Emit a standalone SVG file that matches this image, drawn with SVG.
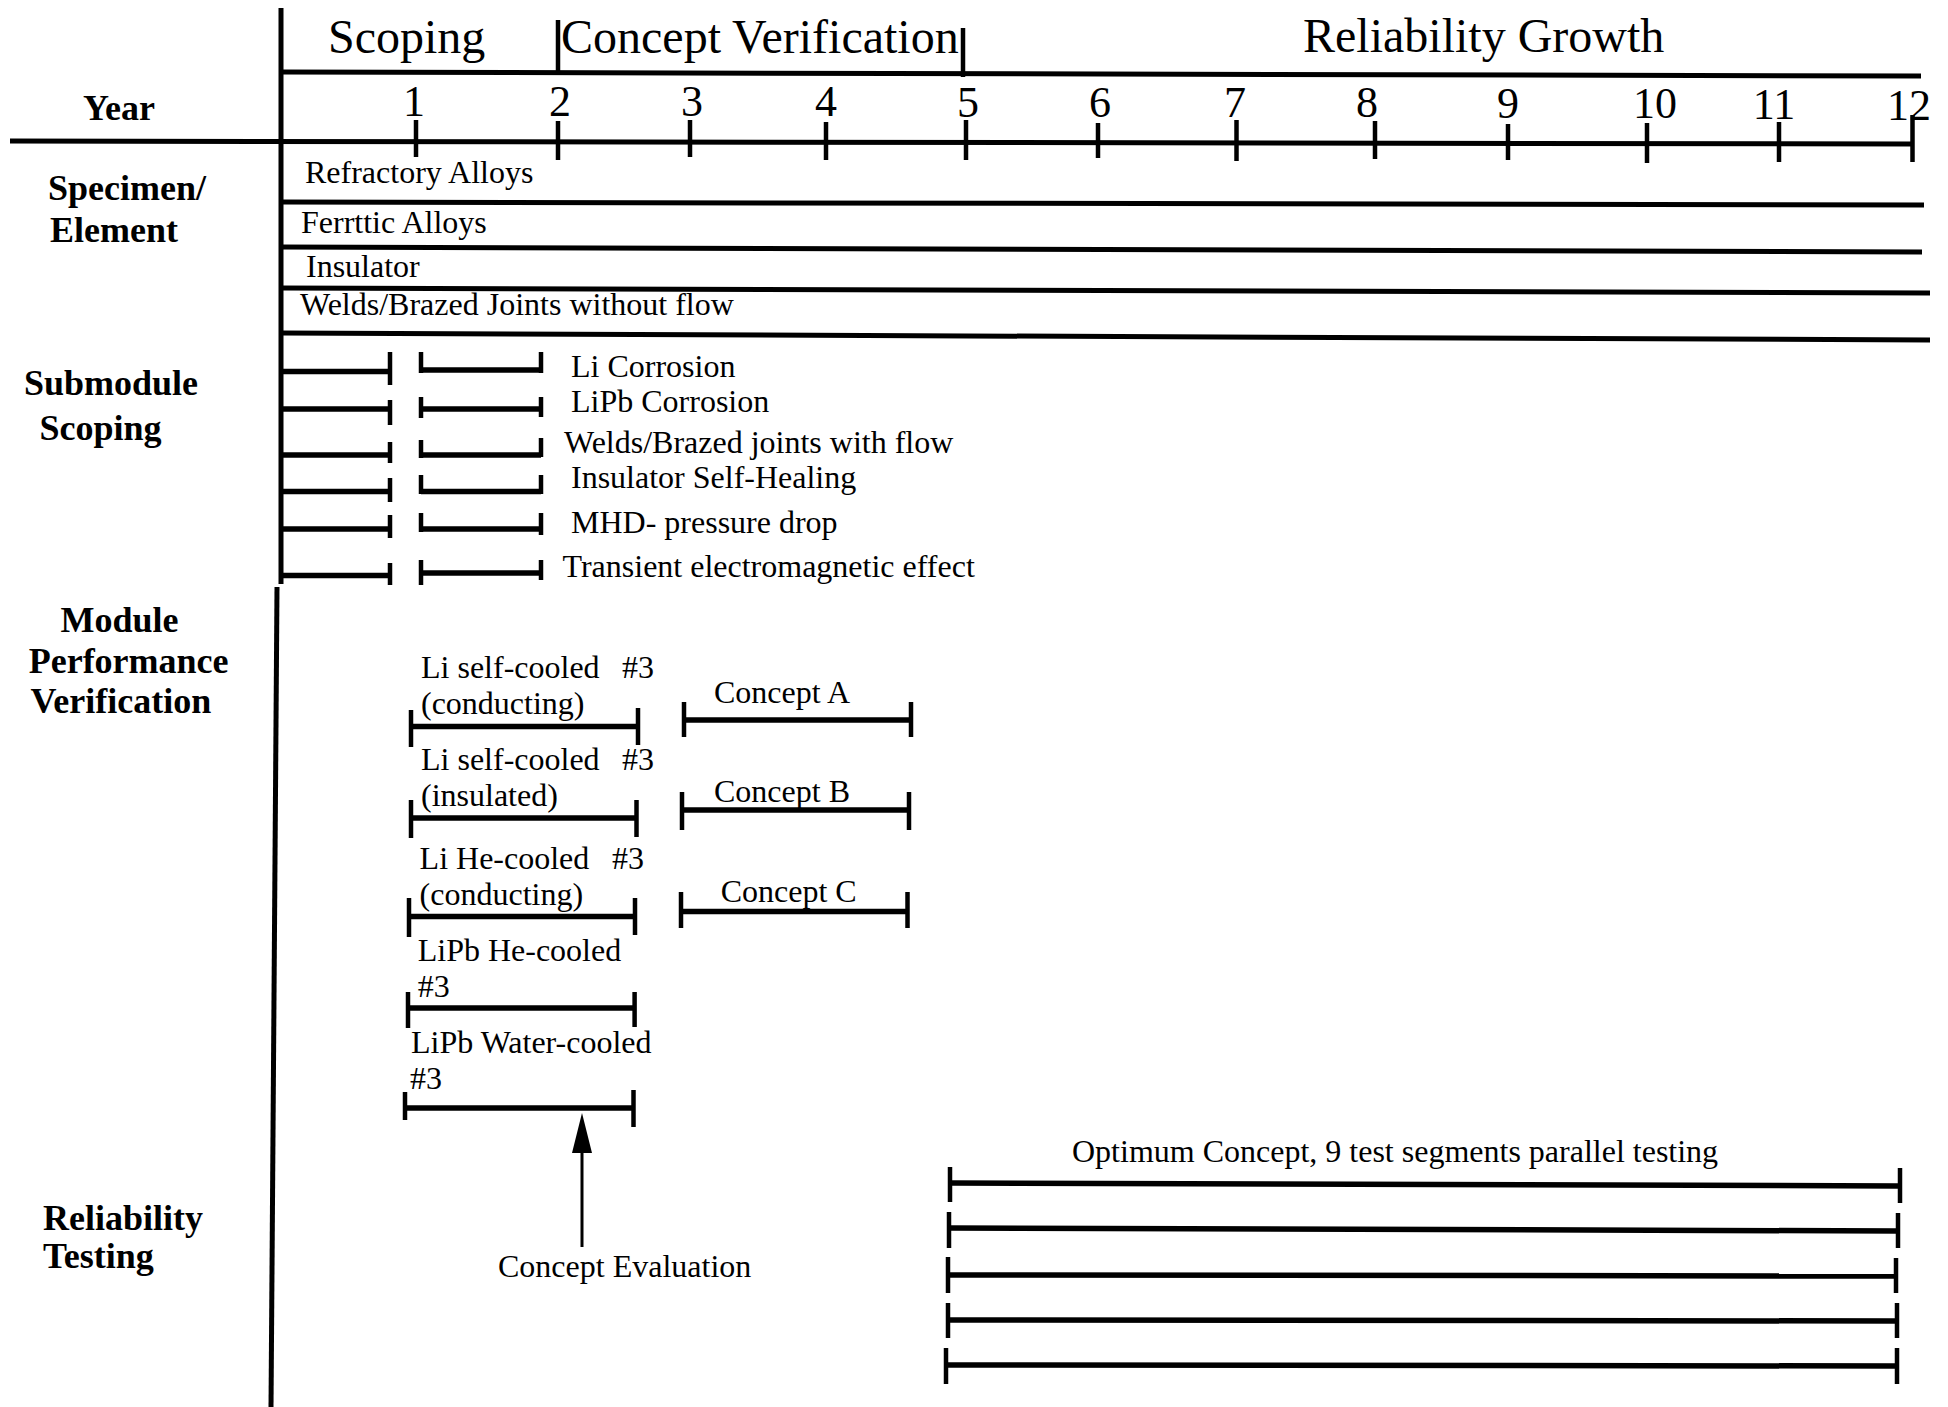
<svg xmlns="http://www.w3.org/2000/svg" width="1948" height="1407" viewBox="0 0 1948 1407">
<style>
  .ln { stroke:#000; stroke-width:5; fill:none; }
  .bar { stroke:#000; stroke-width:5.5; fill:none; }
  .tk { stroke:#000; stroke-width:4.5; fill:none; }
  .thin { stroke:#000; stroke-width:3; fill:none; }
  .t { font-family:"Liberation Serif","Times New Roman",serif; font-size:32px; fill:#000; }
  .big { font-family:"Liberation Serif","Times New Roman",serif; font-size:48px; fill:#000; }
  .num { font-family:"Liberation Serif","Times New Roman",serif; font-size:44px; fill:#000; text-anchor:middle; }
  .lab { font-family:"Liberation Serif","Times New Roman",serif; font-size:36px; font-weight:bold; fill:#000; }
</style>
<defs>
  <marker id="ah" markerWidth="40" markerHeight="20" refX="13" refY="10" orient="auto" markerUnits="userSpaceOnUse" viewBox="0 0 40 20">
    <polygon points="0,0 40,10 0,20" fill="#000"/>
  </marker>
</defs>
<rect width="1948" height="1407" fill="#fff"/>

<g id="frame">
  <line class="ln" x1="281" y1="8" x2="281" y2="584"/>
  <line class="ln" x1="277" y1="587" x2="271" y2="1407"/>
  <line class="ln" x1="281" y1="72" x2="1921" y2="76"/>
  <line class="ln" x1="10" y1="141" x2="1912" y2="144"/>
</g>

<g id="phases">
  <text class="big" x="328" y="53">Scoping</text>
  <line class="tk" x1="558" y1="20" x2="558" y2="72"/>
  <text class="big" x="561" y="53" font-size="47">Concept Verification</text>
  <line class="tk" x1="963" y1="28" x2="963" y2="77"/>
  <text class="big" x="1303" y="52">Reliability Growth</text>
</g>

<g id="years">
  <text class="lab" x="83" y="120">Year</text>
  <text class="num" x="414" y="116">1</text>
  <text class="num" x="560" y="116">2</text>
  <text class="num" x="692" y="116">3</text>
  <text class="num" x="826" y="116">4</text>
  <text class="num" x="968" y="117">5</text>
  <text class="num" x="1100" y="117">6</text>
  <text class="num" x="1235" y="117">7</text>
  <text class="num" x="1367" y="117">8</text>
  <text class="num" x="1508" y="118">9</text>
  <text class="num" x="1655" y="118">10</text>
  <text class="num" x="1774" y="119">11</text>
  <text class="num" x="1909" y="120">12</text>
  <line class="tk" x1="416" y1="120" x2="416" y2="157"/>
  <line class="tk" x1="558" y1="121" x2="558" y2="160"/>
  <line class="tk" x1="690" y1="120" x2="690" y2="157"/>
  <line class="tk" x1="826" y1="122" x2="826" y2="160"/>
  <line class="tk" x1="966" y1="120" x2="966" y2="160"/>
  <line class="tk" x1="1098" y1="123" x2="1098" y2="158"/>
  <line class="tk" x1="1236.5" y1="120" x2="1236.5" y2="161"/>
  <line class="tk" x1="1375" y1="121" x2="1375" y2="159"/>
  <line class="tk" x1="1508" y1="124" x2="1508" y2="160"/>
  <line class="tk" x1="1647" y1="123" x2="1647" y2="163"/>
  <line class="tk" x1="1779" y1="122" x2="1779" y2="162"/>
  <line class="tk" x1="1912.5" y1="115" x2="1912.5" y2="162"/>
</g>

<g id="specimen">
  <text class="lab" x="48" y="200">Specimen/</text>
  <text class="lab" x="50" y="242">Element</text>
  <text class="t" x="305" y="183">Refractory Alloys</text>
  <line class="ln" x1="281" y1="202" x2="1924" y2="205"/>
  <text class="t" x="301" y="233">Ferrttic Alloys</text>
  <line class="ln" x1="281" y1="247" x2="1922" y2="252"/>
  <text class="t" x="306" y="277">Insulator</text>
  <line class="ln" x1="281" y1="288" x2="1930" y2="293"/>
  <text class="t" x="300" y="315">Welds/Brazed Joints without flow</text>
  <line class="ln" x1="281" y1="333" x2="1930" y2="340"/>
</g>

<g id="submodule">
  <text class="lab" x="24" y="395">Submodule</text>
  <text class="lab" x="39.5" y="440">Scoping</text>
  <g id="sub-li">
    <line class="bar" x1="281" y1="371.5" x2="390" y2="371.5"/>
    <line class="tk" x1="390" y1="352" x2="390" y2="385"/>
    <line class="bar" x1="421" y1="370" x2="541" y2="370"/>
    <line class="tk" x1="421" y1="352" x2="421" y2="373"/>
    <line class="tk" x1="541" y1="352" x2="541" y2="373"/>
    <text class="t" x="571" y="377">Li Corrosion</text>
  </g>
  <g id="sub-lipb">
    <line class="bar" x1="281" y1="409" x2="390" y2="409"/>
    <line class="tk" x1="390" y1="400" x2="390" y2="425"/>
    <line class="bar" x1="421" y1="409" x2="541" y2="409"/>
    <line class="tk" x1="421" y1="397" x2="421" y2="418"/>
    <line class="tk" x1="541" y1="397" x2="541" y2="417"/>
    <text class="t" x="571" y="412">LiPb Corrosion</text>
  </g>
  <g id="sub-welds">
    <line class="bar" x1="281" y1="455" x2="390" y2="455"/>
    <line class="tk" x1="390" y1="442" x2="390" y2="463"/>
    <line class="bar" x1="421" y1="455" x2="541" y2="455"/>
    <line class="tk" x1="421" y1="440" x2="421" y2="458"/>
    <line class="tk" x1="541" y1="438" x2="541" y2="457"/>
    <text class="t" x="564" y="453">Welds/Brazed joints with flow</text>
  </g>
  <g id="sub-insulator">
    <line class="bar" x1="281" y1="491.5" x2="390" y2="491.5"/>
    <line class="tk" x1="390" y1="478" x2="390" y2="502"/>
    <line class="bar" x1="421" y1="491.5" x2="541" y2="491.5"/>
    <line class="tk" x1="421" y1="475" x2="421" y2="494"/>
    <line class="tk" x1="541" y1="475" x2="541" y2="494"/>
    <text class="t" x="571" y="488">Insulator Self-Healing</text>
  </g>
  <g id="sub-mhd">
    <line class="bar" x1="281" y1="529" x2="390" y2="529"/>
    <line class="tk" x1="390" y1="515" x2="390" y2="538"/>
    <line class="bar" x1="421" y1="529" x2="541" y2="529"/>
    <line class="tk" x1="421" y1="513" x2="421" y2="532"/>
    <line class="tk" x1="541" y1="513" x2="541" y2="535"/>
    <text class="t" x="571" y="533">MHD- pressure drop</text>
  </g>
  <g id="sub-transient">
    <line class="bar" x1="281" y1="575.5" x2="390" y2="575.5"/>
    <line class="tk" x1="390" y1="563" x2="390" y2="585"/>
    <line class="bar" x1="421" y1="573" x2="541" y2="573"/>
    <line class="tk" x1="421" y1="560" x2="421" y2="585"/>
    <line class="tk" x1="541" y1="560" x2="541" y2="580"/>
    <text class="t" x="562.5" y="577">Transient electromagnetic effect</text>
  </g>
</g>

<g id="module">
  <text class="lab" x="60.6" y="632">Module</text>
  <text class="lab" x="28.7" y="673" font-size="37">Performance</text>
  <text class="lab" x="30.6" y="713">Verification</text>
  <g id="mod-li-sc-cond">
    <text class="t" x="421" y="678">Li self-cooled</text>
    <text class="t" x="622" y="678">#3</text>
    <text class="t" x="421" y="714">(conducting)</text>
    <line class="bar" x1="411" y1="726.5" x2="638" y2="726.5"/>
    <line class="tk" x1="411" y1="710" x2="411" y2="747"/>
    <line class="tk" x1="638" y1="708" x2="638" y2="745"/>
  </g>
  <g id="mod-concept-a">
    <text class="t" x="714" y="703">Concept A</text>
    <line class="bar" x1="684" y1="720" x2="911" y2="720"/>
    <line class="tk" x1="684" y1="702" x2="684" y2="737"/>
    <line class="tk" x1="911" y1="702" x2="911" y2="737"/>
  </g>
  <g id="mod-li-sc-ins">
    <text class="t" x="421" y="770">Li self-cooled</text>
    <text class="t" x="622" y="770">#3</text>
    <text class="t" x="421" y="806">(insulated)</text>
    <line class="bar" x1="411" y1="818" x2="636.5" y2="818"/>
    <line class="tk" x1="411" y1="800" x2="411" y2="838"/>
    <line class="tk" x1="636.5" y1="800" x2="636.5" y2="837"/>
  </g>
  <g id="mod-concept-b">
    <text class="t" x="714" y="802">Concept B</text>
    <line class="bar" x1="682" y1="810" x2="909" y2="810"/>
    <line class="tk" x1="682" y1="792" x2="682" y2="830"/>
    <line class="tk" x1="909" y1="792" x2="909" y2="830"/>
  </g>
  <g id="mod-li-he">
    <text class="t" x="419.6" y="869">Li He-cooled</text>
    <text class="t" x="612" y="869">#3</text>
    <text class="t" x="419.6" y="905">(conducting)</text>
    <line class="bar" x1="409" y1="916.5" x2="635" y2="916.5"/>
    <line class="tk" x1="409" y1="898" x2="409" y2="937"/>
    <line class="tk" x1="635" y1="898" x2="635" y2="935"/>
  </g>
  <g id="mod-concept-c">
    <text class="t" x="720.7" y="902">Concept C</text>
    <line class="bar" x1="681" y1="911.5" x2="907.5" y2="911.5"/>
    <line class="tk" x1="681" y1="892" x2="681" y2="928"/>
    <line class="tk" x1="907.5" y1="892" x2="907.5" y2="928"/>
  </g>
  <g id="mod-lipb-he">
    <text class="t" x="417.7" y="961">LiPb He-cooled</text>
    <text class="t" x="417.7" y="997">#3</text>
    <line class="bar" x1="408" y1="1008" x2="634.6" y2="1008"/>
    <line class="tk" x1="408" y1="992" x2="408" y2="1028"/>
    <line class="tk" x1="634.6" y1="992" x2="634.6" y2="1027"/>
  </g>
  <g id="mod-lipb-water">
    <text class="t" x="411" y="1053">LiPb Water-cooled</text>
    <text class="t" x="410" y="1089">#3</text>
    <line class="bar" x1="405" y1="1108" x2="633.5" y2="1108"/>
    <line class="tk" x1="405" y1="1092" x2="405" y2="1120"/>
    <line class="tk" x1="633.5" y1="1090" x2="633.5" y2="1127"/>
  </g>
</g>

<g id="evaluation">
  <text class="t" x="498" y="1277">Concept Evaluation</text>
</g>

<g id="connectors">
  <line class="thin" x1="582" y1="1247" x2="582" y2="1140" marker-end="url(#ah)"/>
</g>

<g id="reliability">
  <text class="lab" x="43" y="1230">Reliability</text>
  <text class="lab" x="43" y="1268">Testing</text>
  <text class="t" x="1072" y="1162">Optimum Concept, 9 test segments parallel testing</text>
  <g id="rel-1">
    <line class="bar" x1="950" y1="1183" x2="1899" y2="1186" stroke-width="6.5"/>
    <line class="tk" x1="950" y1="1167" x2="950" y2="1202"/>
    <line class="tk" x1="1900" y1="1168" x2="1900" y2="1203"/>
  </g>
  <g id="rel-2">
    <line class="bar" x1="949" y1="1228" x2="1898" y2="1231" stroke-width="6.5"/>
    <line class="tk" x1="949" y1="1212" x2="949" y2="1248"/>
    <line class="tk" x1="1898" y1="1213" x2="1898" y2="1248"/>
  </g>
  <g id="rel-3">
    <line class="bar" x1="948" y1="1275" x2="1896" y2="1276" stroke-width="6.5"/>
    <line class="tk" x1="948" y1="1257" x2="948" y2="1293"/>
    <line class="tk" x1="1896" y1="1258" x2="1896" y2="1293"/>
  </g>
  <g id="rel-4">
    <line class="bar" x1="948" y1="1320" x2="1897" y2="1321" stroke-width="6.5"/>
    <line class="tk" x1="948" y1="1303" x2="948" y2="1338"/>
    <line class="tk" x1="1897" y1="1303" x2="1897" y2="1338"/>
  </g>
  <g id="rel-5">
    <line class="bar" x1="946" y1="1365" x2="1897" y2="1366" stroke-width="6.5"/>
    <line class="tk" x1="946" y1="1348" x2="946" y2="1384"/>
    <line class="tk" x1="1897" y1="1348" x2="1897" y2="1384"/>
  </g>
</g>
</svg>
